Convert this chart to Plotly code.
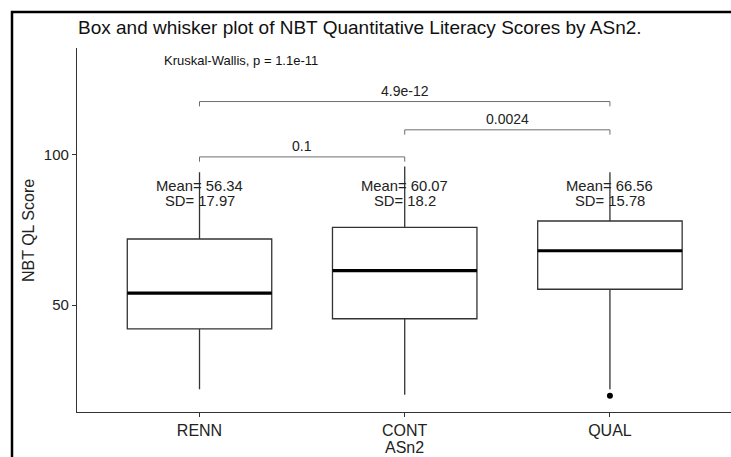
import plotly.graph_objects as go

# ---- data ----
groups = ["RENN", "CONT", "QUAL"]
lower_whisker = [22.1, 20.2, 22.1]
q1_vals = [42.1, 45.5, 55.3]
median_vals = [54.0, 61.5, 68.1]
q3_vals = [72.0, 75.9, 78.0]
upper_whisker = [94.2, 96.1, 94.2]
means = [56.34, 60.07, 66.56]
sds = [17.97, 18.2, 15.78]
outlier_group = [2]
outlier_vals = [19.9]

# pairwise comparisons: (group a, group b, p label, bracket height)
comp_a = [0, 1, 0]
comp_b = [1, 2, 2]
comp_p = ["0.1", "0.0024", "4.9e-12"]
comp_h = [99.3, 108.3, 117.7]
kw_label = "Kruskal-Wallis, p = 1.1e-11"

pos = list(range(len(groups)))
BOXW = 0.704
FONT = "Liberation Sans, Arial, sans-serif"

W, H = 731, 457
ML, MR, MT, MB = 77, 0, 48, 45
PW, PH = W - ML - MR, H - MT - MB


def px_x(px):
    return (px - ML) / PW


def px_y(py):
    return (H - MB - py) / PH


fig = go.Figure()

fig.add_trace(go.Box(
    x=pos, q1=q1_vals, median=median_vals, q3=q3_vals,
    lowerfence=lower_whisker, upperfence=upper_whisker,
    width=BOXW, whiskerwidth=0, boxpoints=False,
    line=dict(color="#333333", width=1.3), fillcolor="white",
    showlegend=False, hoverinfo="skip"))

# thick median lines
mx, my = [], []
for p, m in zip(pos, median_vals):
    mx += [p - BOXW / 2, p + BOXW / 2, None]
    my += [m, m, None]
fig.add_trace(go.Scatter(x=mx, y=my, mode="lines",
                         line=dict(color="black", width=3.2),
                         showlegend=False, hoverinfo="skip"))

# outliers
fig.add_trace(go.Scatter(x=outlier_group, y=outlier_vals, mode="markers",
                         marker=dict(color="black", size=6),
                         showlegend=False, hoverinfo="skip"))

# comparison brackets
tip = 1.6
bx, by = [], []
for a, b, h in zip(comp_a, comp_b, comp_h):
    bx += [a, a, b, b, None]
    by += [h - tip, h, h, h - tip, None]
fig.add_trace(go.Scatter(x=bx, y=by, mode="lines",
                         line=dict(color="#6e6e6e", width=1),
                         showlegend=False, hoverinfo="skip"))

annotations = []
for a, b, h, lab in zip(comp_a, comp_b, comp_h, comp_p):
    annotations.append(dict(x=(a + b) / 2, y=h, text=lab, showarrow=False,
                            yanchor="bottom", yshift=1,
                            font=dict(size=14, color="#222")))
for p, m, s in zip(pos, means, sds):
    annotations.append(dict(x=p, y=89.6, text=f"Mean= {m:.2f}",
                            showarrow=False, yanchor="middle",
                            font=dict(size=14.8, color="#222")))
    annotations.append(dict(x=p, y=84.6, text=f"SD= {s}",
                            showarrow=False, yanchor="middle",
                            font=dict(size=14.8, color="#222")))
annotations.append(dict(x=-0.183, y=131.5, text=kw_label, showarrow=False,
                        xanchor="left", yanchor="middle",
                        font=dict(size=13, color="#111")))
# axis titles
annotations.append(dict(x=0.5, xref="paper", y=px_y(447), yref="paper",
                        text="ASn2", showarrow=False, yanchor="middle",
                        font=dict(size=16, color="#222")))
annotations.append(dict(x=px_x(28), xref="paper", y=px_y(231), yref="paper",
                        text="NBT QL Score", showarrow=False, textangle=-90,
                        xanchor="center", yanchor="middle",
                        font=dict(size=16, color="#222")))
# title
annotations.append(dict(x=px_x(76), xref="paper", y=px_y(28), yref="paper",
                        text="Box and whisker plot of NBT Quantitative Literacy Scores by ASn2.",
                        showarrow=False, xanchor="left", yanchor="middle",
                        font=dict(size=19, color="#111")))

# outer frame (left and top of the picture border)
shapes = [
    dict(type="rect", xref="paper", yref="paper", x0=px_x(12), x1=px_x(745),
         y0=px_y(470), y1=px_y(12), layer="above",
         fillcolor="rgba(0,0,0,0)", line=dict(color="black", width=2.5)),
]

fig.update_layout(
    width=W, height=H,
    margin=dict(l=ML, r=MR, t=MT, b=MB, autoexpand=False),
    paper_bgcolor="white", plot_bgcolor="white",
    font=dict(family=FONT, color="#222"),
    annotations=annotations,
    shapes=shapes,
    showlegend=False,
)
fig.update_xaxes(range=[-0.597, 2.59], tickvals=pos, ticktext=groups,
                 showline=True, linecolor="#333", linewidth=1.2,
                 ticks="outside", ticklen=4, tickcolor="#333",
                 showgrid=False, zeroline=False, automargin=False,
                 tickfont=dict(size=16, color="#222"))
fig.update_yaxes(range=[14.5, 135.5], tickvals=[50, 100],
                 showline=True, linecolor="#333", linewidth=1.2,
                 ticks="outside", ticklen=4, tickcolor="#333",
                 showgrid=False, zeroline=False, automargin=False,
                 tickfont=dict(size=15, color="#222"))

fig.write_html("out.html",
               config={"displayModeBar": False},
               default_width=f"{W}px", default_height=f"{H}px",
               post_script="document.documentElement.style.overflow='hidden';"
                           "document.body.style.margin='0';"
                           "document.body.style.overflow='hidden';")
